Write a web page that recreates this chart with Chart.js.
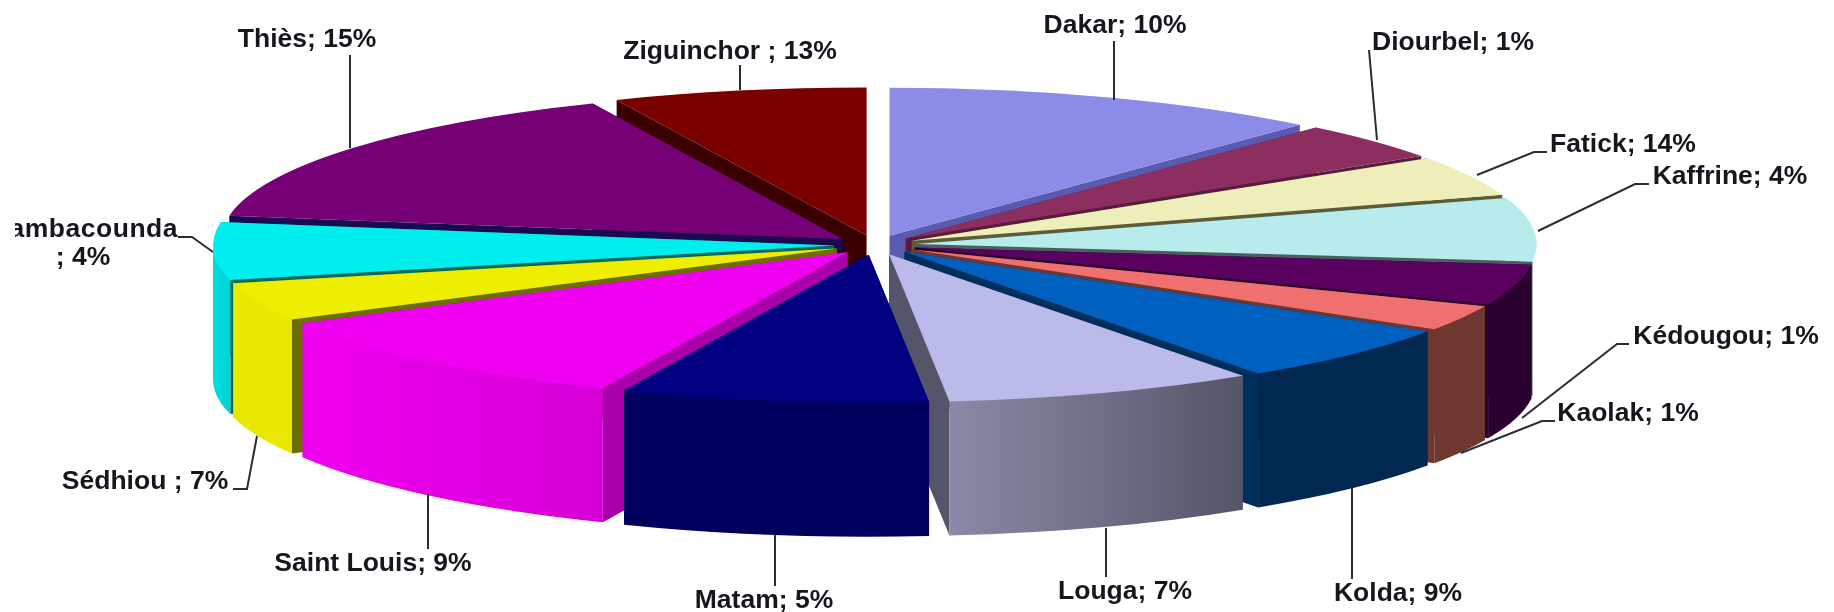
<!DOCTYPE html>
<html>
<head>
<meta charset="utf-8">
<title>Régions</title>
<script src="https://cdn.jsdelivr.net/npm/chart.js@4/dist/chart.umd.min.js"></script>
<style>
    html, body { margin: 0; padding: 0; background: #fff; }
    #box { position: relative; width: 1834px; height: 612px; overflow: hidden; }
</style>
</head>
<body>
<div id="box"><canvas id="Chart" width="1834" height="612"></canvas></div>
<script>
'use strict';

const regions = ['Dakar', 'Diourbel', 'Fatick', 'Kaffrine', 'Kédougou', 'Kaolak', 'Kolda', 'Louga',
    'Matam', 'Saint Louis', 'Sédhiou ', 'Tambacounda', 'Thiès', 'Ziguinchor '];

// size of each slice as it is drawn in the picture (read from the slice edges)
const sliceShares = [11.5, 4.1, 4.4, 6.9, 4.4, 2.8, 6.3, 8.1, 8.0, 10.6, 4.2, 6.3, 15.9, 6.6];

// the percentages printed in the labels do not follow the slices
const printedShares = [10, 1, 14, 4, 1, 1, 9, 7, 5, 9, 7, 4, 15, 13];

const topColors = ['#8c8ce8', '#8c2f60', '#eeeebb', '#b8ebeb', '#5a005e', '#f07070', '#0060c0', '#babaeb',
    '#000080', '#f000f0', '#eeee00', '#00eeee', '#760076', '#7a0000'];
const faceColors = ['#5a5ab0', '#5a1c3c', '#5c5c38', '#4a6060', '#2a002e', '#6e3830', '#002f5c', '#54546a',
    '#00005e', '#a800a8', '#6e6e00', '#006a5a', '#1a0a50', '#3a0000'];
const rimLeftColors = ['#5a5ab0', '#5a1c3c', '#8a8a60', '#5a6a6a', '#2a0030', '#6e3830', '#002850', '#8a8aa8',
    '#00005e', '#f000f0', '#e8e800', '#00dede', '#3a003a', '#3a0000'];
const rimRightColors = ['#5a5ab0', '#5a1c3c', '#8a8a60', '#5a6a6a', '#2a0030', '#6e3830', '#002850', '#555568',
    '#00005e', '#d600d6', '#e8e800', '#00d4d4', '#3a003a', '#3a0000'];

// text spots: x is the centre of the text, y the baseline
const labelSpots = [[1115, 33], [1453, 50], [1623, 152], [1730, 184], [1726, 344], [1628, 421], [1398, 601],
    [1125, 599], [764, 608], [373, 571], [145, 489], [96, 237], [307, 47], [730, 59]];

const leaderLines = [
    [[1114, 41], [1114, 100]],
    [[1369, 50], [1377, 140]],
    [[1547, 152], [1534, 152], [1477, 175]],
    [[1649, 184], [1635, 184], [1538, 231]],
    [[1629, 344], [1617, 344], [1522, 418]],
    [[1555, 421], [1542, 421], [1461, 453]],
    [[1352, 488], [1352, 579]],
    [[1106, 528], [1106, 577]],
    [[775, 534], [775, 586]],
    [[428, 494], [428, 549]],
    [[233, 489], [247, 489], [257, 436]],
    [[178, 237], [192, 237], [213, 252]],
    [[350, 55], [350, 148]],
    [[740, 65], [740, 90]]
];

const pieCenterX = 875;
const pieCenterY = 245;
const pieRadiusX = 621;
const pieRadiusY = 148;
const pieDepth = 134;
const explode = 0.066;

function sliceGeometry(chart, arc) {
    let sx = pieRadiusX / arc.outerRadius;
    let sy = pieRadiusY / arc.outerRadius;
    let mid = (arc.startAngle + arc.endAngle) / 2;
    return {
        sx: sx,
        sy: sy,
        x: pieCenterX + Math.cos(mid) * explode * pieRadiusX,
        y: pieCenterY + Math.sin(mid) * explode * pieRadiusY
    };
}

function fillFace(ctx, g, angle, color) {
    let ex = g.x + Math.cos(angle) * pieRadiusX;
    let ey = g.y + Math.sin(angle) * pieRadiusY;
    ctx.fillStyle = color;
    ctx.beginPath();
    ctx.moveTo(g.x, g.y);
    ctx.lineTo(ex, ey);
    ctx.lineTo(ex, ey + pieDepth);
    ctx.lineTo(g.x, g.y + pieDepth);
    ctx.closePath();
    ctx.fill();
}

function drawWall(ctx, arc, i, g) {
    // the face turned away from the viewer goes first
    let faces = [
        { angle: arc.startAngle, seen: Math.cos(arc.startAngle) < 0 },
        { angle: arc.endAngle, seen: Math.cos(arc.endAngle) > 0 }
    ];
    faces.sort((a, b) => a.seen - b.seen);
    faces.forEach(f => fillFace(ctx, g, f.angle, faceColors[i]));

    // outer rim, only where it looks towards the viewer (0 to PI after normalising)
    const TWO_PI = Math.PI * 2;
    let a0 = ((arc.startAngle % TWO_PI) + TWO_PI) % TWO_PI;
    let a1 = a0 + (arc.endAngle - arc.startAngle);
    let from = Math.max(a0, 0);
    let to = Math.min(a1, Math.PI);
    if (to <= from) {
        return;
    }
    let xa = g.x + Math.cos(from) * pieRadiusX;
    let xb = g.x + Math.cos(to) * pieRadiusX;
    let grad = ctx.createLinearGradient(Math.min(xa, xb), 0, Math.max(xa, xb), 0);
    grad.addColorStop(0, rimLeftColors[i]);
    grad.addColorStop(1, rimRightColors[i]);
    ctx.fillStyle = grad;
    ctx.beginPath();
    // 1px higher than the top face, which covers it, so no white seam shows
    ctx.ellipse(g.x, g.y - 1, pieRadiusX, pieRadiusY, 0, from, to);
    ctx.ellipse(g.x, g.y + pieDepth, pieRadiusX, pieRadiusY, 0, to, from, true);
    ctx.closePath();
    ctx.fill();
}

const pie3dPlugin = {
    id: 'pie3d',
    beforeDatasetDraw(chart, args) {
        let ctx = chart.ctx;
        let arcs = args.meta.data.map((arc, i) => ({ arc: arc, i: i }));
        arcs.sort((a, b) => Math.sin((a.arc.startAngle + a.arc.endAngle) / 2) - Math.sin((b.arc.startAngle + b.arc.endAngle) / 2));

        arcs.forEach(item => {
            let g = sliceGeometry(chart, item.arc);
            drawWall(ctx, item.arc, item.i, g);
            ctx.save();
            ctx.translate(g.x, g.y);
            ctx.scale(g.sx, g.sy);
            ctx.translate(-item.arc.x, -item.arc.y);
            item.arc.draw(ctx);
            ctx.restore();
        });
        return false;
    },
    afterDraw(chart) {
        let ctx = chart.ctx;
        ctx.save();
        ctx.strokeStyle = '#2c2c34';
        ctx.lineWidth = 2;
        leaderLines.forEach(line => {
            ctx.beginPath();
            line.forEach((p, n) => n === 0 ? ctx.moveTo(p[0], p[1]) : ctx.lineTo(p[0], p[1]));
            ctx.stroke();
        });

        ctx.font = 'bold 26.5px "Liberation Sans", Arial, sans-serif';
        ctx.fillStyle = '#16161e';
        ctx.textAlign = 'center';
        ctx.textBaseline = 'alphabetic';
        regions.forEach((name, i) => {
            let text = name + '; ' + printedShares[i] + '%';
            if (name === 'Tambacounda') {
                // the first letters are cut off by the left edge in the original
                ctx.save();
                ctx.beginPath();
                ctx.rect(15, 200, 200, 50);
                ctx.clip();
                ctx.textAlign = 'right';
                ctx.letterSpacing = '0.5px';
                ctx.fillText(name, 178, labelSpots[i][1]);
                ctx.restore();
                ctx.fillText('; ' + printedShares[i] + '%', 83, 265);
                return;
            }
            ctx.fillText(text, labelSpots[i][0], labelSpots[i][1]);
        });
        ctx.restore();
    }
};

new Chart(document.getElementById('Chart').getContext('2d'), {
    type: 'pie',
    data: {
        labels: regions,
        datasets: [{
            data: sliceShares,
            backgroundColor: topColors,
            borderWidth: 0
        }]
    },
    options: {
        responsive: false,
        animation: false,
        layout: { padding: 0 },
        plugins: {
            legend: { display: false },
            title: { display: false },
            tooltip: { enabled: false }
        }
    },
    plugins: [pie3dPlugin]
});
</script>
</body>
</html>
